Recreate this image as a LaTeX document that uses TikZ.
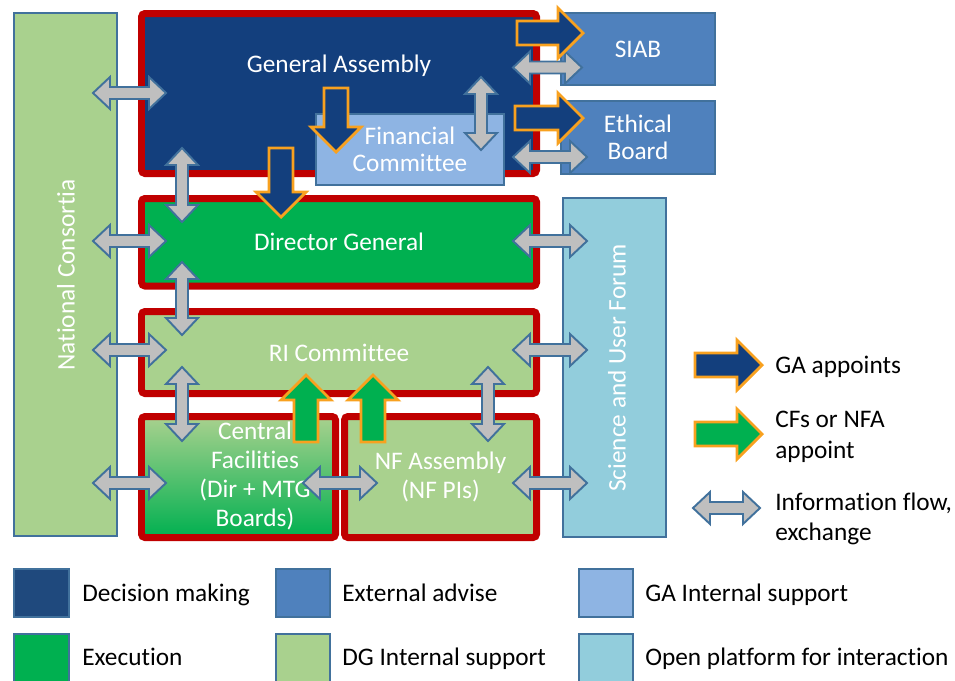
\documentclass[tikz,border=0pt]{standalone}
\usepackage{fontspec}
\setmainfont{Carlito}[Ligatures=NoCommon]
\usetikzlibrary{positioning,fit,calc}

\definecolor{redframe}{HTML}{C00000}
\definecolor{gablue}{HTML}{133F7D}
\definecolor{decblue}{HTML}{1F497D}
\definecolor{extblue}{HTML}{4F81BD}
\definecolor{fcblue}{HTML}{8EB4E3}
\definecolor{execgreen}{HTML}{00B050}
\definecolor{dggreen}{HTML}{A9D18E}
\definecolor{sufblue}{HTML}{92CDDC}
\definecolor{edgeblue}{HTML}{41719C}
\definecolor{flowgray}{HTML}{BFBFBF}
\definecolor{appointorange}{HTML}{F8A11F}

\begin{document}
\begin{tikzpicture}[
		x=0.02cm, y=-0.02cm,
		txt/.style={
			font=\fontsize{14.4}{17.5}\selectfont,
			inner sep=0pt,
			align=center
		},
		boxtext/.style={
			txt,
			font=\fontsize{14.4}{15.4}\selectfont,
			text=white
		},
		redbox/.style={
			draw=redframe,
			line width=3.98pt,
			rounded corners=2pt,
			inner sep=0pt
		},
		bluebox/.style={
			draw=edgeblue,
			line width=1.1pt,
			inner sep=0pt
		},
		flowline/.style={
			draw=edgeblue,
			fill=flowgray,
			line width=1.1pt
		},
		appointline/.style={
			draw=appointorange,
			line width=1.6pt
		},
		pics/infoflow/.style={code={
			\path[flowline] (-#1,0) -- (-#1+17,-16) -- (-#1+17,-6) -- (#1-17,-6) -- (#1-17,-16)
				-- (#1,0) -- (#1-17,16) -- (#1-17,6) -- (-#1+17,6) -- (-#1+17,16) -- cycle;
		}},
		pics/appoint/.style 2 args={code={
			\path[appointline, fill=#2] (0,-12) -- (#1-25,-12) -- (#1-25,-25) -- (#1,0)
				-- (#1-25,25) -- (#1-25,12) -- (0,12) -- cycle;
		}}
		]
		\useasboundingbox (0,0) rectangle (955,680);

		% boxes
		\node[bluebox, fill=dggreen, fit={(14,13) (117,536)}] (nc) {};
		\node[boxtext, rotate=90] (nctext) at (66,275) {National Consortia};
		\node[redbox, fill=gablue, fit={(141.5,13.5) (536.5,173.5)}] (ga) {};
		\node[boxtext] (gatext) at (339,66) {General Assembly};
		\node[bluebox, fill=extblue, fit={(561,13) (715,85)}] (siab) {};
		\node[boxtext] (siabtext) at (siab) {SIAB};
		\node[bluebox, fill=extblue, fit={(561,101) (715,174)}] (eth) {};
		\node[boxtext] (ethtext) at (eth) {Ethical\\Board};
		\node[redbox, fill=execgreen, fit={(141.5,198.5) (536.5,286)}] (dg) {};
		\node[boxtext] (dgtext) at (dg) {Director General};
		\node[bluebox, fill=sufblue, fit={(563,198) (666,537)}] (suf) {};
		\node[boxtext, rotate=90] (suftext) at (617,368) {Science and User Forum};
		\node[redbox, fill=dggreen, fit={(141.5,311.5) (536.5,393.5)}] (ri) {};
		\node[boxtext] (ritext) at (ri) {RI Committee};
		\node[redbox, top color=dggreen, middle color=dggreen!75!execgreen, bottom color=execgreen,
			fit={(141.5,416.5) (335.5,537.5)}] (cf) {};
		\node[boxtext, font=\fontsize{14.4}{16.5}\selectfont] (cftext) at (255,476) {Central\\Facilities\\(Dir + MTG\\Boards)};
		\node[redbox, fill=dggreen, fit={(344.5,416.5) (536.5,537.5)}] (nf) {};
		\node[boxtext, font=\fontsize{14.4}{16.5}\selectfont] (nftext) at (nf) {NF Assembly\\(NF PIs)};
		\node[bluebox, fill=fcblue, fit={(316,114) (504,185)}] (fc) {};
		\node[boxtext] (fctext) at (fc) {Financial\\Committee};

		% information flow
		\pic at (129.5,93) {infoflow=36.5};
		\pic at (129.5,241) {infoflow=36.5};
		\pic at (129.5,350) {infoflow=36.5};
		\pic at (129.5,483) {infoflow=36.5};
		\pic[rotate=90] at (182,185) {infoflow=37};
		\pic[rotate=90] at (182,298.5) {infoflow=36.5};
		\pic[rotate=90] at (182,404) {infoflow=37};
		\pic[rotate=90] at (481,113.5) {infoflow=36.5};
		\pic at (547.5,67.5) {infoflow=34.5};
		\pic at (550,157) {infoflow=37};
		\pic at (550,241) {infoflow=37};
		\pic at (550,350) {infoflow=37};
		\pic at (550,483) {infoflow=37};
		\pic[rotate=90] at (488,404) {infoflow=37};
		\pic at (340,483) {infoflow=37};

		% appointments
		\pic[rotate=-90] at (336,88) {appoint={64}{gablue}};
		\pic[rotate=-90] at (281,148) {appoint={69}{gablue}};
		\pic at (517,33) {appoint={66}{gablue}};
		\pic at (515,118) {appoint={68}{gablue}};
		\pic[rotate=90] at (306,442) {appoint={67}{execgreen}};
		\pic[rotate=90] at (373,442) {appoint={67}{execgreen}};

		% legend, arrows
		\pic at (695,365) {appoint={67}{gablue}};
		\node[txt, anchor=base west] (lga) at (775,373) {GA appoints};
		\pic at (695,434) {appoint={67}{execgreen}};
		\node[txt, anchor=west, align=left] (lcf) at (775,437) {CFs or NFA\\appoint};
		\pic at (726.5,508) {infoflow=33.5};
		\node[txt, anchor=west, align=left] (lif) at (775,519) {Information flow,\\exchange};

		% legend, colours
		\node[bluebox, fill=decblue, fit={(14,569) (69,617)}] (kdec) {};
		\node[txt, anchor=base west] (tdec) at (82,601) {Decision making};
		\node[bluebox, fill=extblue, fit={(276,569) (330,617)}] (kext) {};
		\node[txt, anchor=base west] (text) at (342,601) {External advise};
		\node[bluebox, fill=fcblue, fit={(579,569) (633,617)}] (kgai) {};
		\node[txt, anchor=base west] (tgai) at (645,601) {GA Internal support};
		\node[bluebox, fill=execgreen, fit={(14,634) (69,690)}] (kexe) {};
		\node[txt, anchor=base west] (texe) at (82,665) {Execution};
		\node[bluebox, fill=dggreen, fit={(276,634) (330,690)}] (kdgi) {};
		\node[txt, anchor=base west] (tdgi) at (342,665) {DG Internal support};
		\node[bluebox, fill=sufblue, fit={(579,634) (633,690)}] (kopen) {};
		\node[txt, anchor=base west] (topen) at (645,665) {Open platform for interaction};
\end{tikzpicture}
\end{document}
